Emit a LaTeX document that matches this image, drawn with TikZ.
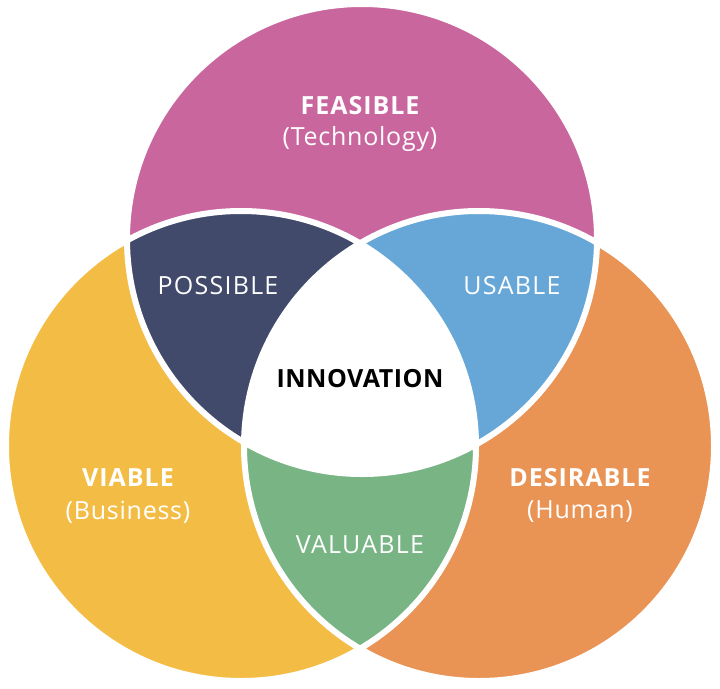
\documentclass[tikz,border=0pt]{standalone}
\usepackage{fontspec}
\setmainfont{Open Sans}
\definecolor{cfeas}{HTML}{C9669E}
\definecolor{cviab}{HTML}{F3BD45}
\definecolor{cdesi}{HTML}{E99355}
\definecolor{cposs}{HTML}{414A6B}
\definecolor{cusab}{HTML}{67A7D8}
\definecolor{cvalu}{HTML}{79B485}
\tikzset{
  head/.style={text=white,font=\fontsize{25}{29}\selectfont\bfseries\addfontfeature{LetterSpace=4},inner sep=0pt},
  sub/.style={text=white,font=\fontsize{25}{29}\selectfont\addfontfeature{LetterSpace=3},inner sep=0pt},
  pair/.style={text=white,font=\fontsize{25}{29}\selectfont\addfontfeature{LetterSpace=5},inner sep=0pt},
  core/.style={text=black,font=\fontsize{25}{29}\selectfont\bfseries\addfontfeature{LetterSpace=2},inner sep=0pt},
  gap/.style={draw=white,line width=6pt}
}
\begin{document}
\begin{tikzpicture}[x=1pt,y=-1pt]
\useasboundingbox (0,0) rectangle (720,688);
\coordinate (T) at (362,239);
\coordinate (L) at (241,446);
\coordinate (R) at (479,446);
\fill[cfeas] (T) circle (235pt);
\fill[cviab] (L) circle (235pt);
\fill[cdesi] (R) circle (235pt);
\begin{scope}
  \clip (T) circle (235pt);
  \fill[cposs] (L) circle (235pt);
\end{scope}
\begin{scope}
  \clip (T) circle (235pt);
  \fill[cusab] (R) circle (235pt);
\end{scope}
\begin{scope}
  \clip (L) circle (235pt);
  \fill[cvalu] (R) circle (235pt);
\end{scope}
\begin{scope}
  \clip (T) circle (235pt);
  \clip (L) circle (235pt);
  \fill[white] (R) circle (235pt);
\end{scope}
\draw[gap] (T) circle (235pt) (L) circle (235pt) (R) circle (235pt);
\node[head] (feas) at (360,106) {FEASIBLE};
\node[sub] (feassub) at (360,139) {(Technology)};
\node[head] (viab) at (128,478) {VIABLE};
\node[sub] (viabsub) at (128,512) {(Business)};
\node[head] (desi) at (580,478) {DESIRABLE};
\node[sub] (desisub) at (580,512) {(Human)};
\node[pair] (poss) at (218,286) {POSSIBLE};
\node[pair] (usab) at (512,286) {USABLE};
\node[pair] (valu) at (360,545) {VALUABLE};
\node[core] (inno) at (360,379) {INNOVATION};
\end{tikzpicture}
\end{document}
